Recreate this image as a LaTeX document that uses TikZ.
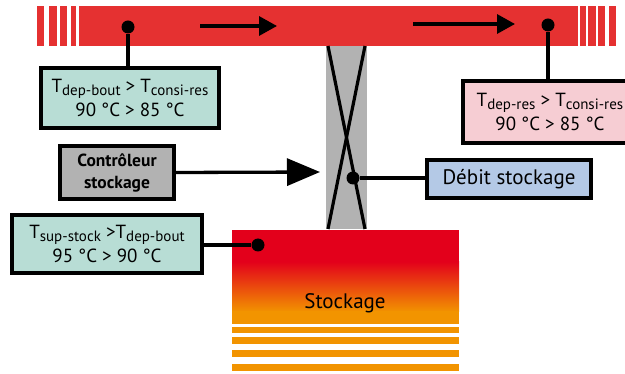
\documentclass[tikz,border=0pt]{standalone}
\usepackage{fontspec}
\setmainfont{PT Sans}
\usetikzlibrary{arrows.meta,positioning}
\definecolor{pipered}{HTML}{E53131}
\definecolor{stockred}{HTML}{E3001B}
\definecolor{stockorange}{HTML}{F29400}
\definecolor{tealbox}{HTML}{B8DDD5}
\definecolor{pinkbox}{HTML}{F6CDD3}
\definecolor{bluebox}{HTML}{B4C9E6}
\definecolor{greybox}{HTML}{B2B2B2}
\newcommand{\sublbl}[1]{\raisebox{-0.3ex}{\fontsize{15}{16}\selectfont #1}}

\begin{document}
\begin{tikzpicture}[
    x=1pt, y=-1pt,
    box/.style={draw, line width=3.4pt, align=center, inner sep=1pt,
    font=\fontsize{19}{24}\selectfont},
    dot/.style={circle, fill=black, inner sep=0pt, minimum size=13pt},
    link/.style={line width=3.3pt},
    flow/.style={line width=3.3pt, -{Triangle[length=18pt, width=19pt]}}
]
\useasboundingbox (0,0) rectangle (625,374);
\clip (0,0) rectangle (625,374);
% supply pipe
\foreach \xa/\xb in {37/44, 49/57, 60/67, 71/76, 79/578, 580/586, 588/596, 598/605, 609/616}
  \fill[pipered] (\xa,6) rectangle (\xb,46);
\coordinate (flowAs) at (200,26);
\coordinate (flowAe) at (277,26);
\coordinate (flowBs) at (413,24);
\coordinate (flowBe) at (515,24);
\draw[flow] (flowAs) -- (flowAe);
\draw[flow] (flowBs) -- (flowBe);
% valve column
\fill[greybox] (326,46) rectangle (367,229);
\draw[line width=3.2pt] (328,46) -- (365,229);
\draw[line width=3.2pt] (365,46) -- (328,229);
% storage tank
\fill[stockred] (232,230) rectangle (459,262);
\shade[top color=stockred, bottom color=stockorange] (232,261.5) rectangle (459,312);
\fill[stockorange] (232,311.5) rectangle (459,324);
\foreach \ya/\yb in {327/333, 337/344, 350/357, 364/371}
  \fill[stockorange] (232,\ya) rectangle (459,\yb);
\node[font=\fontsize{21}{22}\selectfont] (stock) at (345,303) {Stockage};
% boxes
\node[box, fill=tealbox, minimum width=178pt, minimum height=60pt] (depbout) at (130,98)
  {T\sublbl{dep-bout} > T\sublbl{consi-res}\\90 °C > 85 °C};
\node[box, fill=pinkbox, minimum width=174pt, minimum height=62pt] (depres) at (550,112)
  {T\sublbl{dep-res} > T\sublbl{consi-res}\\90 °C > 85 °C};
\node[box, fill=greybox, minimum width=114pt, minimum height=53pt,
  font=\fontsize{17.5}{22}\selectfont\bfseries] (ctrl) at (117,172.5) {Contrôleur\\stockage};
\node[box, fill=bluebox, minimum width=164pt, minimum height=38pt,
  font=\fontsize{21}{22}\selectfont] (debit) at (509,179) {Débit stockage};
\node[box, fill=tealbox, minimum width=190pt, minimum height=58pt] (supstock) at (107,244)
  {T\sublbl{sup-stock} >T\sublbl{dep-bout}\\95 °C > 90 °C};
% sensors
\node[dot] (sensA) at (128,27) {};
\node[dot] (sensB) at (548,25) {};
\node[dot] (sensC) at (353,178) {};
\node[dot] (sensD) at (258,245) {};
\coordinate (valve) at (320,172);
\draw[link] (sensA) -- (sensA |- depbout.north);
\draw[link] (sensB) -- (sensB |- depres.north);
\draw[link] (sensC) -- (debit.west |- sensC);
\draw[link] (sensD) -- (supstock.east |- sensD);
\draw[line width=3.3pt, -{Triangle[length=33pt, width=27pt]}] (ctrl.east) -- (valve);
\end{tikzpicture}
\end{document}
